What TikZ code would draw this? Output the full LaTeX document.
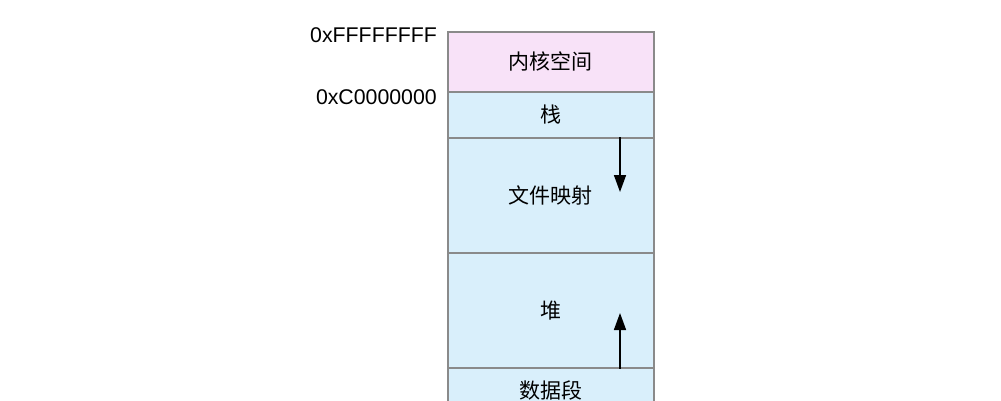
\documentclass[tikz,border=0pt]{standalone}
\usepackage{fontspec}
\setmainfont{Liberation Sans}
\newfontfamily\cjk{Noto Sans CJK SC}
\usetikzlibrary{arrows.meta}
\definecolor{kernfill}{HTML}{F8E2F8}
\definecolor{userfill}{HTML}{D9EFFB}
\definecolor{edge}{HTML}{8A8A8A}
\tikzset{
  seg/.style={draw=edge, line width=1.5pt, fill=userfill, minimum width=206pt,
    minimum height=#1, inner sep=0pt, anchor=north west,
    font=\cjk\fontsize{21}{23}\selectfont},
  kern/.style={seg=#1, fill=kernfill},
  addr/.style={anchor=east, inner sep=0pt, font=\fontsize{21.3}{23}\selectfont},
  growth/.style={draw=black, line width=1.6pt, -{Triangle[length=17pt,width=12pt]}},
}

\begin{document}
\begin{tikzpicture}[x=1pt, y=-1pt]
  \useasboundingbox (0,0) rectangle (1001,400);
  % address space, top to bottom
  \node[kern=60pt] (kernel) at (447,31) {内核空间};
  \node[seg=46pt] (stack) at (447,91) {栈};
  \node[seg=115pt] (mmap) at (447,137) {文件映射};
  \node[seg=115pt] (heap) at (447,252) {堆};
  \node[seg=46pt] (data) at (447,367) {数据段};
  % boundaries
  \node[addr] (top) at (437,35.5) {0xFFFFFFFF};
  \node[addr] (split) at (437,97) {0xC0000000};
  % growth directions
  \coordinate (mmapTip) at (620,192);
  \coordinate (heapTip) at (620,313);
  \draw[growth] (mmap.north -| mmapTip) -- (mmapTip);
  \draw[growth] (heap.south -| heapTip) -- (heapTip);
\end{tikzpicture}
\end{document}
